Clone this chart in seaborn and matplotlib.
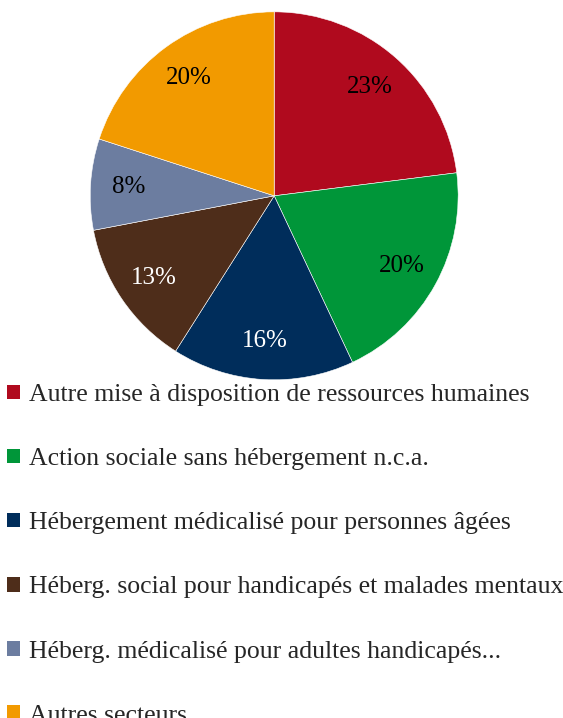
import seaborn as sns
import matplotlib.pyplot as plt
from matplotlib.patches import Patch

sns.set_style("white")
plt.rcParams['font.family'] = ['Liberation Serif', 'DejaVu Serif']

labels = ["Autre mise à disposition de ressources humaines",
          "Action sociale sans hébergement n.c.a.",
          "Hébergement médicalisé pour personnes âgées",
          "Héberg. social pour handicapés et malades mentaux",
          "Héberg. médicalisé pour adultes handicapés...",
          "Autres secteurs"]
shares = [23, 20, 16, 13, 8, 20]
colors = ["#B00A1E", "#009639", "#002D5B", "#4E2D1A", "#6C7DA0", "#F29A00"]
text_colors = ["black", "black", "white", "white", "black", "black"]

fig = plt.figure(figsize=(5.63, 7.18), dpi=100)
ax = fig.add_axes([0.160, 0.471, 0.654, 0.5125])

wedges, texts, autotexts = ax.pie(shares, colors=colors, startangle=90, counterclock=False,
                                  autopct="%d%%", pctdistance=0.79,
                                  wedgeprops=dict(edgecolor="white", linewidth=0.4))
for t, c in zip(autotexts, text_colors):
    t.set_color(c)
    t.set_fontsize(18)
ax.set_aspect("equal")
ax.set_xlim(-1, 1)
ax.set_ylim(-1, 1)

handles = [Patch(facecolor=c, edgecolor="none") for c in colors]
fig.legend(handles, labels, loc="upper left", bbox_to_anchor=(0.012, 1 - 384 / 718),
           frameon=False, fontsize=18.5, handlelength=0.5, handleheight=0.5,
           handletextpad=0.35, labelspacing=1.64, borderpad=0, borderaxespad=0)

fig.savefig("out.png", dpi=100)
